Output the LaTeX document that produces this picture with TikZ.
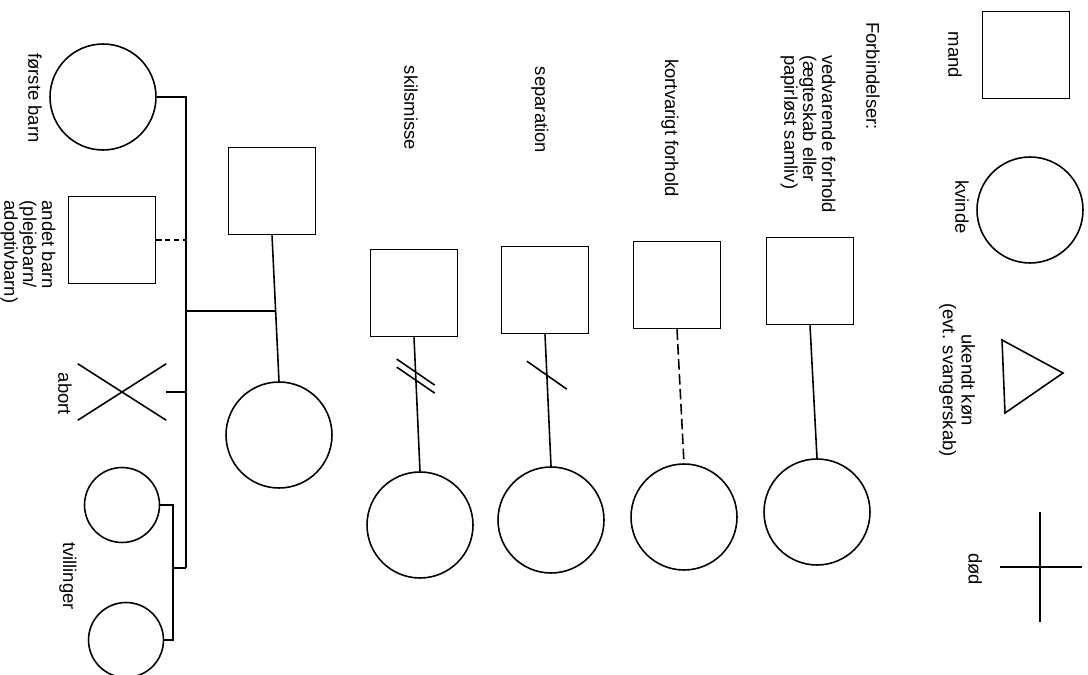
\documentclass[tikz,border=0pt]{standalone}
\usepackage{fontspec}
\setmainfont{Liberation Sans}
\usetikzlibrary{positioning,calc,shapes.misc}
\tikzset{
  mand/.style = {draw, minimum size=1.74cm, inner sep=0pt},
  kvinde/.style = {draw, circle, minimum size=2.12cm, inner sep=0pt},
  tvilling/.style = {kvinde, minimum size=1.5cm},
  tekst/.style = {rotate=-90, inner sep=0pt, font=\fontsize{10.5}{10.8}\selectfont},
  kort/.style = {dash pattern=on 6pt off 2.5pt}
}

\begin{document}
\begin{tikzpicture}[x=0.02cm, y=-0.02cm, line width=0.9pt]
  \useasboundingbox (0,0) rectangle (1088,675);
  % symboler
  \node[mand] (m) at (1026,55) {};
  \node[tekst] (mt) at (955,55) {mand};
  \node[kvinde] (k) at (1030,210) {};
  \node[tekst] (kt) at (962,207) {kvinde};
  \draw (1002,340) -- (1063,373) -- (1005,413) -- cycle;
  \node[tekst, align=center] (ut) at (957,380) {ukendt køn\\(evt. svangerskab)};
  \draw (1040,512) -- (1040,622);
  \draw (1000,567) -- (1082,567);
  \node[tekst] (dt) at (975,569) {død};

  % forbindelser
  \node[tekst] (ft) at (873,76) {Forbindelser:};
  \node[tekst, align=left] (vt) at (808,134)
    {vedvarende forhold\\(ægteskab eller\\papirløst samliv)};
  \node[mand] (vm) at (810,281) {};
  \node[kvinde] (vk) at (817,512) {};
  \draw (vm.south) -- (vk.north);

  \node[tekst] (kft) at (670,128) {kortvarigt forhold};
  \node[mand] (km) at (677,285) {};
  \node[kvinde] (kk) at (684,517) {};
  \draw[kort] (km.south) -- (kk.north);

  \node[tekst] (st) at (540,110) {separation};
  \node[mand] (sm) at (545,290) {};
  \node[kvinde] (sk) at (551,520) {};
  \draw (sm.south) -- (sk.north) coordinate[pos=0.31] (sx);
  \draw ([shift={(-20,-14)}]sx) -- ([shift={(20,14)}]sx);

  \node[tekst] (skt) at (411,108) {skilsmisse};
  \node[mand] (skm) at (414,293) {};
  \node[kvinde] (skk) at (420,525) {};
  \draw (skm.south) -- (skk.north) coordinate[pos=0.29] (skx);
  \draw ([shift={(-19,-17)}]skx) -- ([shift={(19,9)}]skx);
  \draw ([shift={(-19,-9)}]skx) -- ([shift={(19,17)}]skx);

  % familie
  \coordinate (bund) at (186,568);
  \coordinate (tv) at (173,568);
  \node[kvinde] (b1) at (103,97) {};
  \node[tekst] (b1t) at (35,98) {første barn};
  \node[mand] (b2) at (112,240) {};
  \node[tekst, align=left] (b2t) at (28,252) {andet barn\\(plejebarn/\\adoptivbarn)};
  \node[draw, cross out, minimum width=1.74cm, minimum height=1.1cm] (ab) at (122,392) {};
  \node[tekst] (abt) at (65,394) {abort};
  \node[tvilling] (t1) at (122,505) {};
  \node[tvilling] (t2) at (126,640) {};
  \node[tekst] (tt) at (68,576) {tvillinger};

  \node[mand] (far) at (272,191) {};
  \node[kvinde] (mor) at (279,435) {};
  \draw (far.south) -- (mor.north) coordinate[pos=0.52] (par);

  \draw (b1.east) -| (bund);
  \draw[dash pattern=on 3pt off 2pt] (b2.east) -- (b2.east -| bund);
  \draw (ab.east) -- (ab.east -| bund);
  \draw (par) -- (par -| bund);
  \draw (t1.east) -| (tv) |- (t2.east);
  \draw (tv) -- (bund);
\end{tikzpicture}
\end{document}
